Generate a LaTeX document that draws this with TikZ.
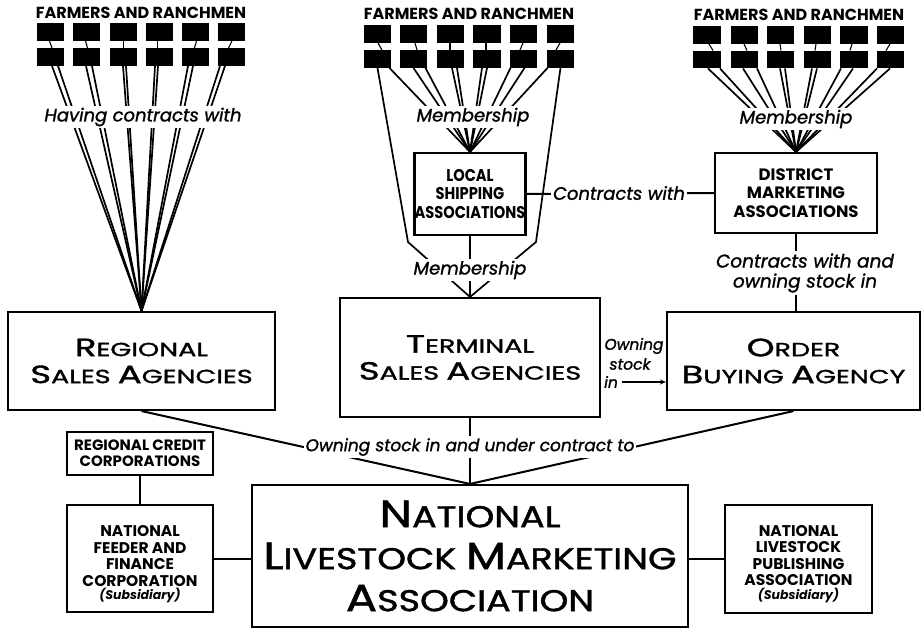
\documentclass[tikz,border=0pt]{standalone}
\usepackage{fontspec}
\setmainfont{Poppins}
\newfontfamily\fwide[FakeStretch=1.42,FakeBold=1.5]{Poppins}
\newfontfamily\fnat[FakeStretch=1.22,FakeBold=1.5]{Poppins}
\newfontfamily\fcond[FakeStretch=0.86]{Poppins}
\newfontfamily\fit[FakeBold=1.2]{Poppins}
\usetikzlibrary{arrows.meta}
\newcommand\BG[1]{{\fontsize{25}{25}\selectfont #1}}
\newcommand\BN[1]{{\fontsize{38}{38}\selectfont #1}}
\newcommand\subsid{{\bfseries\itshape\fontsize{12.5}{12.5}\selectfont (Subsidiary)}}
\begin{document}
\begin{tikzpicture}[x=1pt,y=-1pt,
  box/.style={draw, line width=2.1pt, inner sep=0pt, align=center},
  blk/.style={fill=black, minimum width=27.5pt, minimum height=17.5pt, inner sep=0pt},
  fan/.style={line width=1.7pt},
  tck/.style={line width=1.1pt},
  conn/.style={line width=2pt},
  lab/.style={fill=white, inner sep=2pt, font=\fit\itshape\fontsize{18}{20}\selectfont, align=center},
  ttl/.style={font=\bfseries\fontsize{16}{16}\selectfont, inner sep=0pt},
  big/.style={box, font=\fwide\fontsize{19}{27}\selectfont},
  sml/.style={box},
  stxt/.style={font=\bfseries\fontsize{15.5}{16.5}\selectfont, align=center, inner sep=0pt}
  ]
\useasboundingbox[fill=white] (0,0) rectangle (922,629);

% titles
\node[ttl] (tL) at (141,13) {FARMERS AND RANCHMEN};
\node[ttl] (tM) at (469,14) {FARMERS AND RANCHMEN};
\node[ttl] (tR) at (799,15) {FARMERS AND RANCHMEN};

% farmer blocks
\foreach \i/\x in {1/50.5,2/86.5,3/123.5,4/159.5,5/195.5,6/231.5}{
  \node[blk] (L1-\i) at (\x,32) {};
  \node[blk] (L2-\i) at (\x,57) {};}
\foreach \i/\x in {1/377.5,2/413.5,3/450.5,4/487,5/523.5,6/560.5}{
  \node[blk] (M1-\i) at (\x,34) {};
  \node[blk] (M2-\i) at (\x,59) {};}
\foreach \i/\x in {1/707,2/744.5,3/780.5,4/817.5,5/854,6/890.5}{
  \node[blk] (R1-\i) at (\x,35) {};
  \node[blk] (R2-\i) at (\x,59.5) {};}

% ticks between rows
\foreach \i/\a/\b in {1/-1/1.5,2/-1/1,3/0/0,4/-2/-2,5/1/-1,6/0.5/-3}
  \draw[tck] ([xshift=\a]L1-\i.south) -- ([xshift=\b]L2-\i.north);
\foreach \i/\a/\b in {1/0.5/4.5,2/1.5/3.5,3/-0.5/-0.5,4/-1/-1,5/-0.5/-3.5,6/-0.5/-4.5}
  \draw[tck] ([xshift=\a]M1-\i.south) -- ([xshift=\b]M2-\i.north);
\foreach \i/\a/\b in {1/2/6,2/-0.5/2.5,3/-0.5/0.5,4/-1.5/-2.5,5/-2/-4,6/-0.5/-4.5}
  \draw[tck] ([xshift=\a]R1-\i.south) -- ([xshift=\b]R2-\i.north);

% boxes
\node[big, minimum width=267pt, minimum height=98pt] (reg) at (141.5,361)
  {\BG{R}EGIONAL\\\BG{S}ALES \BG{A}GENCIES};
\node[big, minimum width=260pt, minimum height=119pt] (ter) at (470,357.5)
  {\BG{T}ERMINAL\\\BG{S}ALES \BG{A}GENCIES};
\node[big, minimum width=253pt, minimum height=98pt] (ord) at (793.5,361)
  {\BG{O}RDER\\\BG{B}UYING \BG{A}GENCY};
\node[box, minimum width=110pt, minimum height=82pt, font=\fcond\bfseries\fontsize{17}{18.5}\selectfont] (loc) at (470,194)
  {LOCAL\\SHIPPING\\ASSOCIATIONS};
\node[box, minimum width=162pt, minimum height=80pt, font=\bfseries\fontsize{16.5}{18.5}\selectfont] (dis) at (796,193)
  {DISTRICT\\MARKETING\\ASSOCIATIONS};
\node[box, minimum width=436pt, minimum height=142pt, font=\fnat\fontsize{30}{42}\selectfont] (nat) at (470,556)
  {\BN{N}ATIONAL\\\BN{L}IVESTOCK \BN{M}ARKETING\\\BN{A}SSOCIATION};
\node[box, minimum width=146pt, minimum height=43pt, font=\bfseries\fontsize{15}{16}\selectfont] (cred) at (140,453.5)
  {REGIONAL CREDIT\\CORPORATIONS};
\node[sml, minimum width=146pt, minimum height=107pt] (feed) at (140,558.5) {};
\node[stxt] (feedt) at ([yshift=-6pt]feed.center)
  {NATIONAL\\FEEDER AND\\FINANCE\\CORPORATION\\[-3pt]\subsid};
\node[sml, minimum width=147pt, minimum height=108pt] (pub) at (798.5,559) {};
\node[stxt] (pubt) at ([yshift=-5pt]pub.center)
  {NATIONAL\\LIVESTOCK\\PUBLISHING\\ASSOCIATION\\[-3pt]\subsid};

% left fan
\foreach \i/\a/\b in {1/1.5/7.5,2/-0.5/5.5,3/-0.5/2.5,4/-4.5/-1.5,5/-7.5/-2.5,6/-11.5/-6.5}{
  \draw[fan] ([xshift=\a]L2-\i.south) -- (reg.north);
  \draw[fan] ([xshift=\b]L2-\i.south) -- (reg.north);}
% middle fan
\foreach \i/\a in {1/12,2/0,2/12,3/1.5,3/6.5,4/-5,4/0,5/-13,5/1,6/-13}
  \draw[fan] ([xshift=\a]M2-\i.south) -- (loc.north);
\coordinate (bl) at (408,242);
\coordinate (br) at (536,242);
\draw[fan] (M2-1.south) -- (bl) -- (ter.north);
\draw[fan] (M2-6.south) -- (br) -- (ter.north);
\draw[fan] (loc.south) -- (ter.north);
% right fan
\foreach \i/\a/\b in {1/1/13,2/-1.5/12.5,3/-0.5/4.5,4/-5.5/-0.5,5/-13/-1,6/-13.5/-0.5}{
  \draw[fan] ([xshift=\a]R2-\i.south) -- (dis.north);
  \draw[fan] ([xshift=\b]R2-\i.south) -- (dis.north);}

% connectors
\draw[conn] (loc.east) -- (dis.west);
\draw[conn] (dis.south) -- (dis.south |- ord.north);
\draw[conn] (reg.south) -- (nat.north);
\draw[conn] (ord.south) -- (nat.north);
\draw[conn] (ter.south) -- (nat.north);
\draw[conn] (cred.south) -- (feed.north);
\draw[conn] (feed.east) -- (feed.east -| nat.west);
\draw[conn] (nat.east |- pub.west) -- (pub.west);

% labels
\node[lab] (hcw) at (143,117) {Having contracts with};
\node[lab] (mem1) at (473,117) {Membership};
\node[lab] (mem2) at (796,119) {Membership};
\node[lab] (mem3) at (470,270) {Membership};
\node[lab] (cw) at (619,193) {Contracts with};
\node[lab, font=\fit\itshape\fontsize{18.5}{20}\selectfont] (cwo) at (805,273) {Contracts with and\\owning stock in};
\node[lab, font=\fit\itshape\fontsize{17}{19}\selectfont] (osu) at (470,447) {Owning stock in and under contract to};
\node[font=\fit\itshape\fontsize{15.5}{15.5}\selectfont, inner sep=0pt] (own1) at (634,346) {Owning};
\node[font=\fit\itshape\fontsize{15.5}{15.5}\selectfont, inner sep=0pt] (own2) at (630,364) {stock};
\node[font=\fit\itshape\fontsize{15.5}{15.5}\selectfont, inner sep=0pt] (own3) at (611,382) {in};
\draw[conn, -{Stealth[length=6pt,width=5pt]}] ([xshift=4pt]own3.east) -- (own3.east -| ord.west);
\end{tikzpicture}
\end{document}
